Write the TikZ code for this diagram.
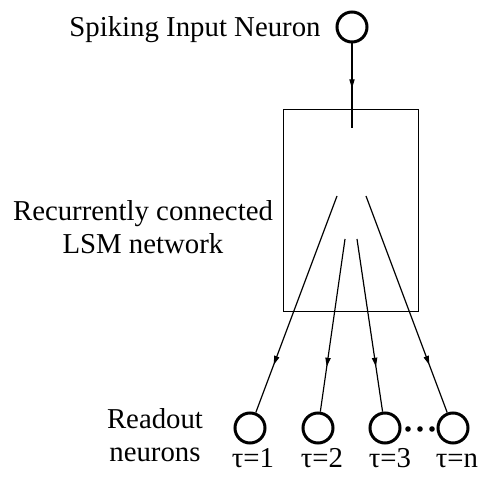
\documentclass[tikz,border=0pt]{standalone}
\usepackage{fontspec}
\setmainfont{Liberation Serif}
\usepackage{tikz}
\usetikzlibrary{arrows.meta,positioning,decorations.markings}

\tikzset{
  neuron/.style={circle, draw, line width=1.5pt, minimum size=15pt, inner sep=0pt},
  wire/.style={line width=0.6pt},
  midarrow/.style={postaction={decorate}, decoration={markings,
      mark=at position #1 with {\arrow{Triangle[length=4.5pt,width=2.6pt]}}}},
  lbl/.style={inner sep=0pt, font=\fontsize{14.4}{16.3}\selectfont}
}

\begin{document}
\begin{tikzpicture}[x=0.5pt, y=-0.5pt]
  \useasboundingbox (0,0) rectangle (483,481);
  % input neuron and reservoir
  \node[neuron] (input) at (352,27) {};
  \node[lbl, anchor=base east] (inlabel) at (321,37) {Spiking Input Neuron};
  \node[draw, line width=0.5pt, minimum width=67.5pt, minimum height=101pt, inner sep=0pt] (lsm) at (350.5,211) {};
  \node[lbl, align=center] (lsmlabel) at (143,227) {Recurrently connected\\LSM network};
  \coordinate (inend) at (352,128);
  \draw[wire, midarrow=0.53] (input) -- (inend);

  % readout neurons
  \node[neuron] (r1) at (250,428) {};
  \node[neuron] (r2) at (318,428) {};
  \node[neuron] (r3) at (385,428) {};
  \node[neuron] (r4) at (453,428) {};
  \foreach \x in {408,420,432} \fill (\x,429) circle (1.4pt);
  \node[lbl, align=center] (rolabel) at (155,435) {Readout\\neurons};

  \node[lbl, anchor=base] (t1) at (253,467) {τ=1};
  \node[lbl, anchor=base] (t2) at (322,467) {τ=2};
  \node[lbl, anchor=base] (t3) at (390,467) {τ=3};
  \node[lbl, anchor=base] (t4) at (457,467) {τ=n};

  % fan out from the reservoir
  \coordinate (s1) at (337,196);
  \coordinate (s2) at (345,239);
  \coordinate (s3) at (357,239);
  \coordinate (s4) at (366,196);
  \draw[wire, midarrow=0.78] (s1) -- (r1);
  \draw[wire, midarrow=0.74] (s2) -- (r2);
  \draw[wire, midarrow=0.74] (s3) -- (r3);
  \draw[wire, midarrow=0.78] (s4) -- (r4);
\end{tikzpicture}
\end{document}
